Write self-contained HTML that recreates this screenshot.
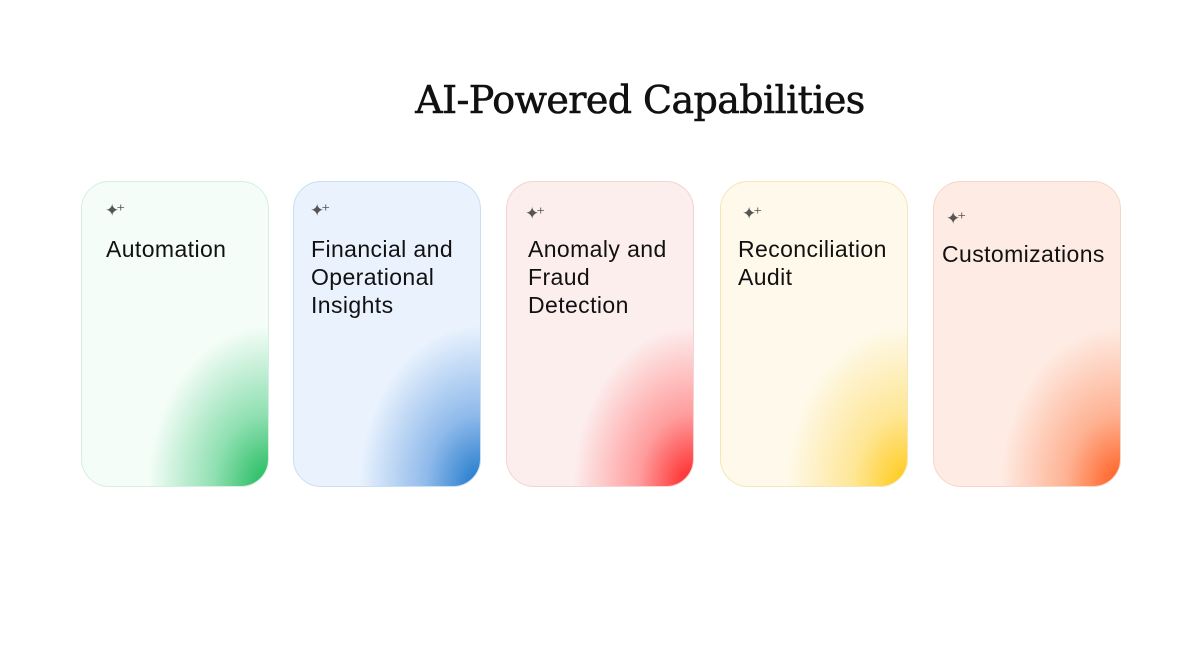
<!DOCTYPE html>
<html><head><style>
body{margin:0;width:1183px;height:658px;background:#fff;position:relative;overflow:hidden;font-family:"Liberation Sans",sans-serif}
h1{position:absolute;left:0;width:1280px;top:78px;margin:0;text-align:center;font-family:"DejaVu Serif",serif;font-weight:normal;font-size:38px;color:#111;letter-spacing:-0.6px;-webkit-text-stroke:0.6px #111}
.c{position:absolute;top:181px;width:186px;height:304px;border-radius:28px;border:1px solid;overflow:hidden}
.c .s{position:absolute;left:23px;font-size:17px;color:#555;letter-spacing:-3px}
.c .t{position:absolute;left:24px;font-size:23px;line-height:28px;color:#111;letter-spacing:0.4px}
</style></head><body>
<h1>AI-Powered Capabilities</h1>
<div class="c" style="left:81px;background:radial-gradient(ellipse 120px 160px at 100% 100%,#1cb95a 0%,rgba(60,200,120,.55) 45%,rgba(240,253,246,0) 100%),#f5fdf8;border-color:#d5efe0"><span class="s" style="top:19px">✦⁺</span><div class="t" style="top:53px">Automation</div></div>
<div class="c" style="left:293px;background:radial-gradient(ellipse 120px 160px at 100% 100%,#1a76c9 0%,rgba(70,140,220,.55) 45%,rgba(234,243,253,0) 100%),#e9f2fd;border-color:#c9dff2"><span class="s" style="top:19px;left:16px">✦⁺</span><div class="t" style="top:53px;left:17px">Financial and<br>Operational<br>Insights</div></div>
<div class="c" style="left:506px;background:radial-gradient(ellipse 120px 160px at 100% 100%,#ff1f1f 0%,rgba(255,90,90,.55) 45%,rgba(253,238,238,0) 100%),#fdeeee;border-color:#f3d3d3"><span class="s" style="top:22px;left:18px">✦⁺</span><div class="t" style="top:53px;left:21px">Anomaly and<br>Fraud<br>Detection</div></div>
<div class="c" style="left:720px;background:radial-gradient(ellipse 120px 160px at 100% 100%,#ffc811 0%,rgba(255,215,80,.55) 45%,rgba(254,249,234,0) 100%),#fef9ea;border-color:#f5e6b5"><span class="s" style="top:22px;left:21px">✦⁺</span><div class="t" style="top:53px;left:17px">Reconciliation<br>Audit</div></div>
<div class="c" style="left:933px;background:radial-gradient(ellipse 120px 160px at 100% 100%,#ff5a1a 0%,rgba(255,130,80,.55) 45%,rgba(254,236,228,0) 100%),#feece4;border-color:#f5d6c8"><span class="s" style="top:27px;left:12px">✦⁺</span><div class="t" style="top:58px;left:8px">Customizations</div></div>
</body></html>
